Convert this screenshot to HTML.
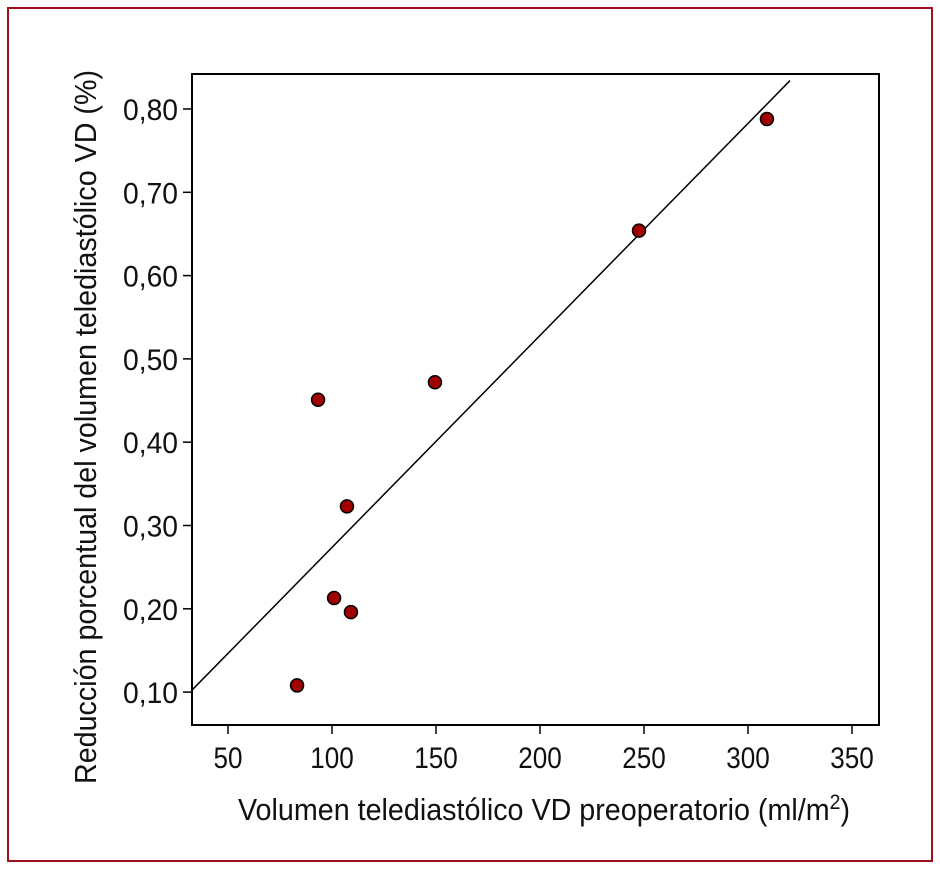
<!DOCTYPE html>
<html><head><meta charset="utf-8"><style>
html,body{margin:0;padding:0;background:#fff;}
svg{display:block;}
text{font-family:"Liberation Sans Narrow","Liberation Sans",sans-serif;fill:#111;}
</style></head><body>
<svg id="chart" width="940" height="869">
<rect x="8" y="8" width="924" height="853" fill="none" stroke="#a0101c" stroke-width="2"/>
<rect x="192" y="74" width="687" height="651" fill="none" stroke="#000" stroke-width="2"/>
<g id="xticks"></g><g id="yticks"></g><g id="marks"></g>
<text x="238" y="820" font-size="31" textLength="612" lengthAdjust="spacingAndGlyphs">Volumen telediastólico VD preoperatorio (ml/m<tspan dy="-11" font-size="21">2</tspan><tspan dy="11">)</tspan></text>
<text transform="translate(96,427) rotate(-90)" font-size="31" text-anchor="middle" textLength="714" lengthAdjust="spacingAndGlyphs">Reducción porcentual del  volumen telediastólico VD (%)</text>
</svg>
<script>
const xTicks=[50,100,150,200,250,300,350];
const yTicks=[0.1,0.2,0.3,0.4,0.5,0.6,0.7,0.8];
const xVals=[83.2,93.3,107.2,101,109.1,149.5,247.6,309.1];
const yVals=[0.108,0.451,0.323,0.213,0.196,0.472,0.654,0.788];
const fitSlope=0.002545;
const fitIntercept=0.0192;
const fitRange=[32.7,320.2];
const NS="http://www.w3.org/2000/svg";
const sx=v=>228+(v-50)*2.08;
const sy=v=>109+(0.8-v)*833;
function mk(tag,attrs,parent){const e=document.createElementNS(NS,tag);for(const k in attrs)e.setAttribute(k,attrs[k]);parent.appendChild(e);return e;}
const xg=document.getElementById('xticks'),yg=document.getElementById('yticks'),mg=document.getElementById('marks');
xTicks.forEach(t=>{
 const l=mk('line',{x1:sx(t),x2:sx(t),y1:725,y2:734,stroke:'#000','stroke-width':1.5},xg);
 
 
 const s=String(t);
 const tx=mk('text',{x:sx(t),y:768,'font-size':30,'text-anchor':'middle',textLength:s.length*14.5,lengthAdjust:'spacingAndGlyphs'},xg);tx.textContent=s;
 
 
});
yTicks.forEach(t=>{
 const l=mk('line',{x1:183,x2:192,y1:sy(t),y2:sy(t),stroke:'#000','stroke-width':1.5},yg);
 
 
 const tx=mk('text',{x:178,y:sy(t)+11,'font-size':30,'text-anchor':'end',textLength:55,lengthAdjust:'spacingAndGlyphs'},yg);tx.textContent=t.toFixed(2).replace('.',',');
 
 
});
const fl=mk('line',{x1:sx(fitRange[0]),y1:sy(fitIntercept+fitSlope*fitRange[0]),x2:sx(fitRange[1]),y2:sy(fitIntercept+fitSlope*fitRange[1]),stroke:'#000','stroke-width':1.5},mg);


xVals.forEach((v,i)=>{
 const c=mk('circle',{cx:sx(v),cy:sy(yVals[i]),r:6.5,fill:'#a00000',stroke:'#000','stroke-width':1.5},mg);
 
 
});
</script>
</body></html>
